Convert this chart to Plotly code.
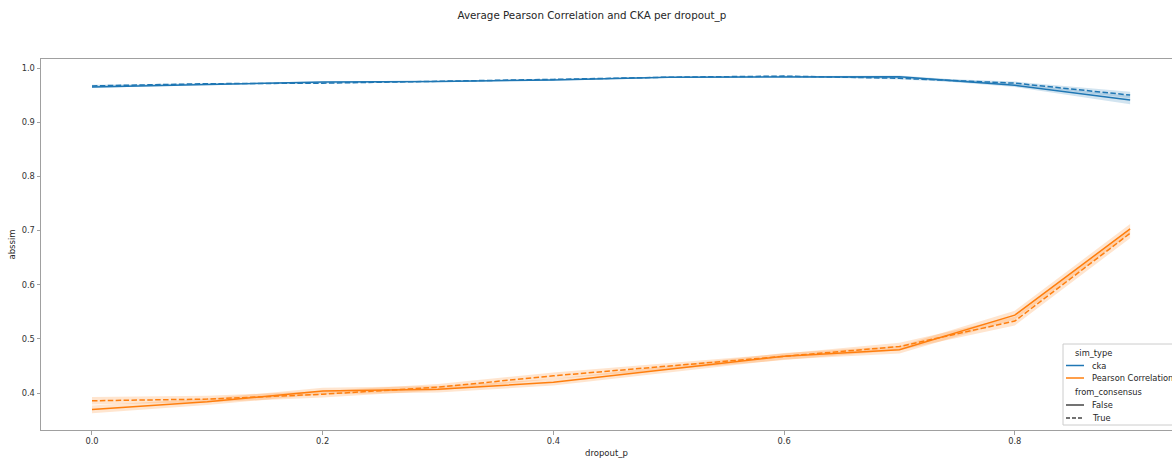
import plotly.graph_objects as go

# dropout probabilities on the x axis
dropout_p = [0.0, 0.1, 0.2, 0.3, 0.4, 0.5, 0.6, 0.7, 0.8, 0.9]

# mean similarity per dropout_p, split by sim_type and from_consensus
cka_false = [0.965, 0.970, 0.974, 0.975, 0.978, 0.983, 0.984, 0.984, 0.968, 0.941]
cka_true = [0.967, 0.971, 0.972, 0.975, 0.979, 0.983, 0.985, 0.981, 0.972, 0.950]
pearson_false = [0.370, 0.384, 0.404, 0.407, 0.420, 0.444, 0.468, 0.480, 0.544, 0.703]
pearson_true = [0.386, 0.389, 0.398, 0.411, 0.432, 0.450, 0.467, 0.486, 0.533, 0.695]

# half-width of the 95% confidence band around each mean
cka_false_ci = [0.002, 0.001, 0.001, 0.001, 0.001, 0.001, 0.001, 0.002, 0.003, 0.008]
cka_true_ci = [0.002, 0.001, 0.001, 0.001, 0.001, 0.001, 0.001, 0.002, 0.003, 0.006]
pearson_false_ci = [0.007, 0.006, 0.006, 0.006, 0.006, 0.006, 0.006, 0.007, 0.008, 0.009]
pearson_true_ci = [0.007, 0.006, 0.006, 0.006, 0.006, 0.006, 0.006, 0.007, 0.008, 0.009]

# legend contents
hue_title = "sim_type"
hue_labels = ["cka", "Pearson Correlation"]
style_title = "from_consensus"
style_labels = ["False", "True"]

BLUE = "#1f77b4"
ORANGE = "#ff7f0e"
DARK = "#444444"
TEXT = "#262626"
DASH = "5.5px,2.4px"
FONT = "DejaVu Sans"

W, H = 1172, 458
ML, MR, MT, MB = 41, 0, 59, 28
PW, PH = W - ML - MR, H - MT - MB


def px(x):
    return (x - ML) / PW


def py(y):
    return (H - MB - y) / PH


series = [
    (cka_false, cka_false_ci, BLUE, "rgba(31,119,180,0.2)", "solid"),
    (cka_true, cka_true_ci, BLUE, "rgba(31,119,180,0.2)", DASH),
    (pearson_false, pearson_false_ci, ORANGE, "rgba(255,127,14,0.2)", "solid"),
    (pearson_true, pearson_true_ci, ORANGE, "rgba(255,127,14,0.2)", DASH),
]

fig = go.Figure()

for mean, ci, color, band, dash in series:
    upper = [m + c for m, c in zip(mean, ci)]
    lower = [m - c for m, c in zip(mean, ci)]
    fig.add_trace(go.Scatter(
        x=dropout_p + dropout_p[::-1], y=upper + lower[::-1],
        fill="toself", fillcolor=band, line=dict(width=0),
        mode="lines", showlegend=False, hoverinfo="skip",
    ))
    fig.add_trace(go.Scatter(
        x=dropout_p, y=mean, mode="lines",
        line=dict(color=color, width=1.5, dash=dash),
        showlegend=False,
    ))

# legend box drawn in the lower right corner of the axes
shapes = [dict(type="rect", xref="paper", yref="paper",
               x0=px(1063), x1=px(1180), y0=py(425), y1=py(344),
               line=dict(color="#cccccc", width=1), fillcolor="rgba(255,255,255,0.8)",
               layer="above")]
annotations = []

rows = [
    (353, hue_title, None, None),
    (365.5, hue_labels[0], BLUE, "solid"),
    (378, hue_labels[1], ORANGE, "solid"),
    (392, style_title, None, None),
    (405, style_labels[0], DARK, "solid"),
    (418, style_labels[1], DARK, "4px,2px"),
]
for y, label, color, dash in rows:
    if color is None:
        annotations.append(dict(x=px(1073), y=py(y), xref="paper", yref="paper",
                                text=label, showarrow=False, xanchor="left", yanchor="middle",
                                font=dict(family=FONT, size=8.3, color=TEXT)))
    else:
        shapes.append(dict(type="line", xref="paper", yref="paper",
                           x0=px(1066), x1=px(1084), y0=py(y), y1=py(y),
                           line=dict(color=color, width=1.5, dash=dash), layer="above"))
        annotations.append(dict(x=px(1090), y=py(y), xref="paper", yref="paper",
                                text=label, showarrow=False, xanchor="left", yanchor="middle",
                                font=dict(family=FONT, size=8.3, color=TEXT)))

axis_common = dict(
    showgrid=False, zeroline=False, showline=True, linecolor="#a0a0a0", linewidth=1,
    ticks="outside", ticklen=3.5, tickcolor="#a0a0a0", tickwidth=1,
    tickfont=dict(family=FONT, size=8.3, color="#333333"),
)

fig.update_layout(
    width=W, height=H,
    margin=dict(l=ML, r=MR, t=MT, b=MB, autoexpand=False),
    plot_bgcolor="white", paper_bgcolor="white",
    font=dict(family=FONT, size=8.3, color=TEXT),
    showlegend=False,
    shapes=shapes, annotations=annotations,
    title=dict(text="Average Pearson Correlation and CKA per dropout_p",
               x=0.505, xanchor="center", y=0.967, yanchor="middle",
               font=dict(family=FONT, size=10.3, color=TEXT)),
    xaxis=dict(range=[-0.0442, 0.9363], tickvals=[0.0, 0.2, 0.4, 0.6, 0.8],
               tickformat=".1f", mirror=True,
               title=dict(text="dropout_p", standoff=4, font=dict(family=FONT, size=8.5, color=TEXT)),
               **axis_common),
    yaxis=dict(range=[0.332, 1.0166], tickvals=[0.4, 0.5, 0.6, 0.7, 0.8, 0.9, 1.0],
               tickformat=".1f",
               title=dict(text="abssim", standoff=4, font=dict(family=FONT, size=8.5, color=TEXT)),
               **axis_common),
)

fig.write_html("out.html")
